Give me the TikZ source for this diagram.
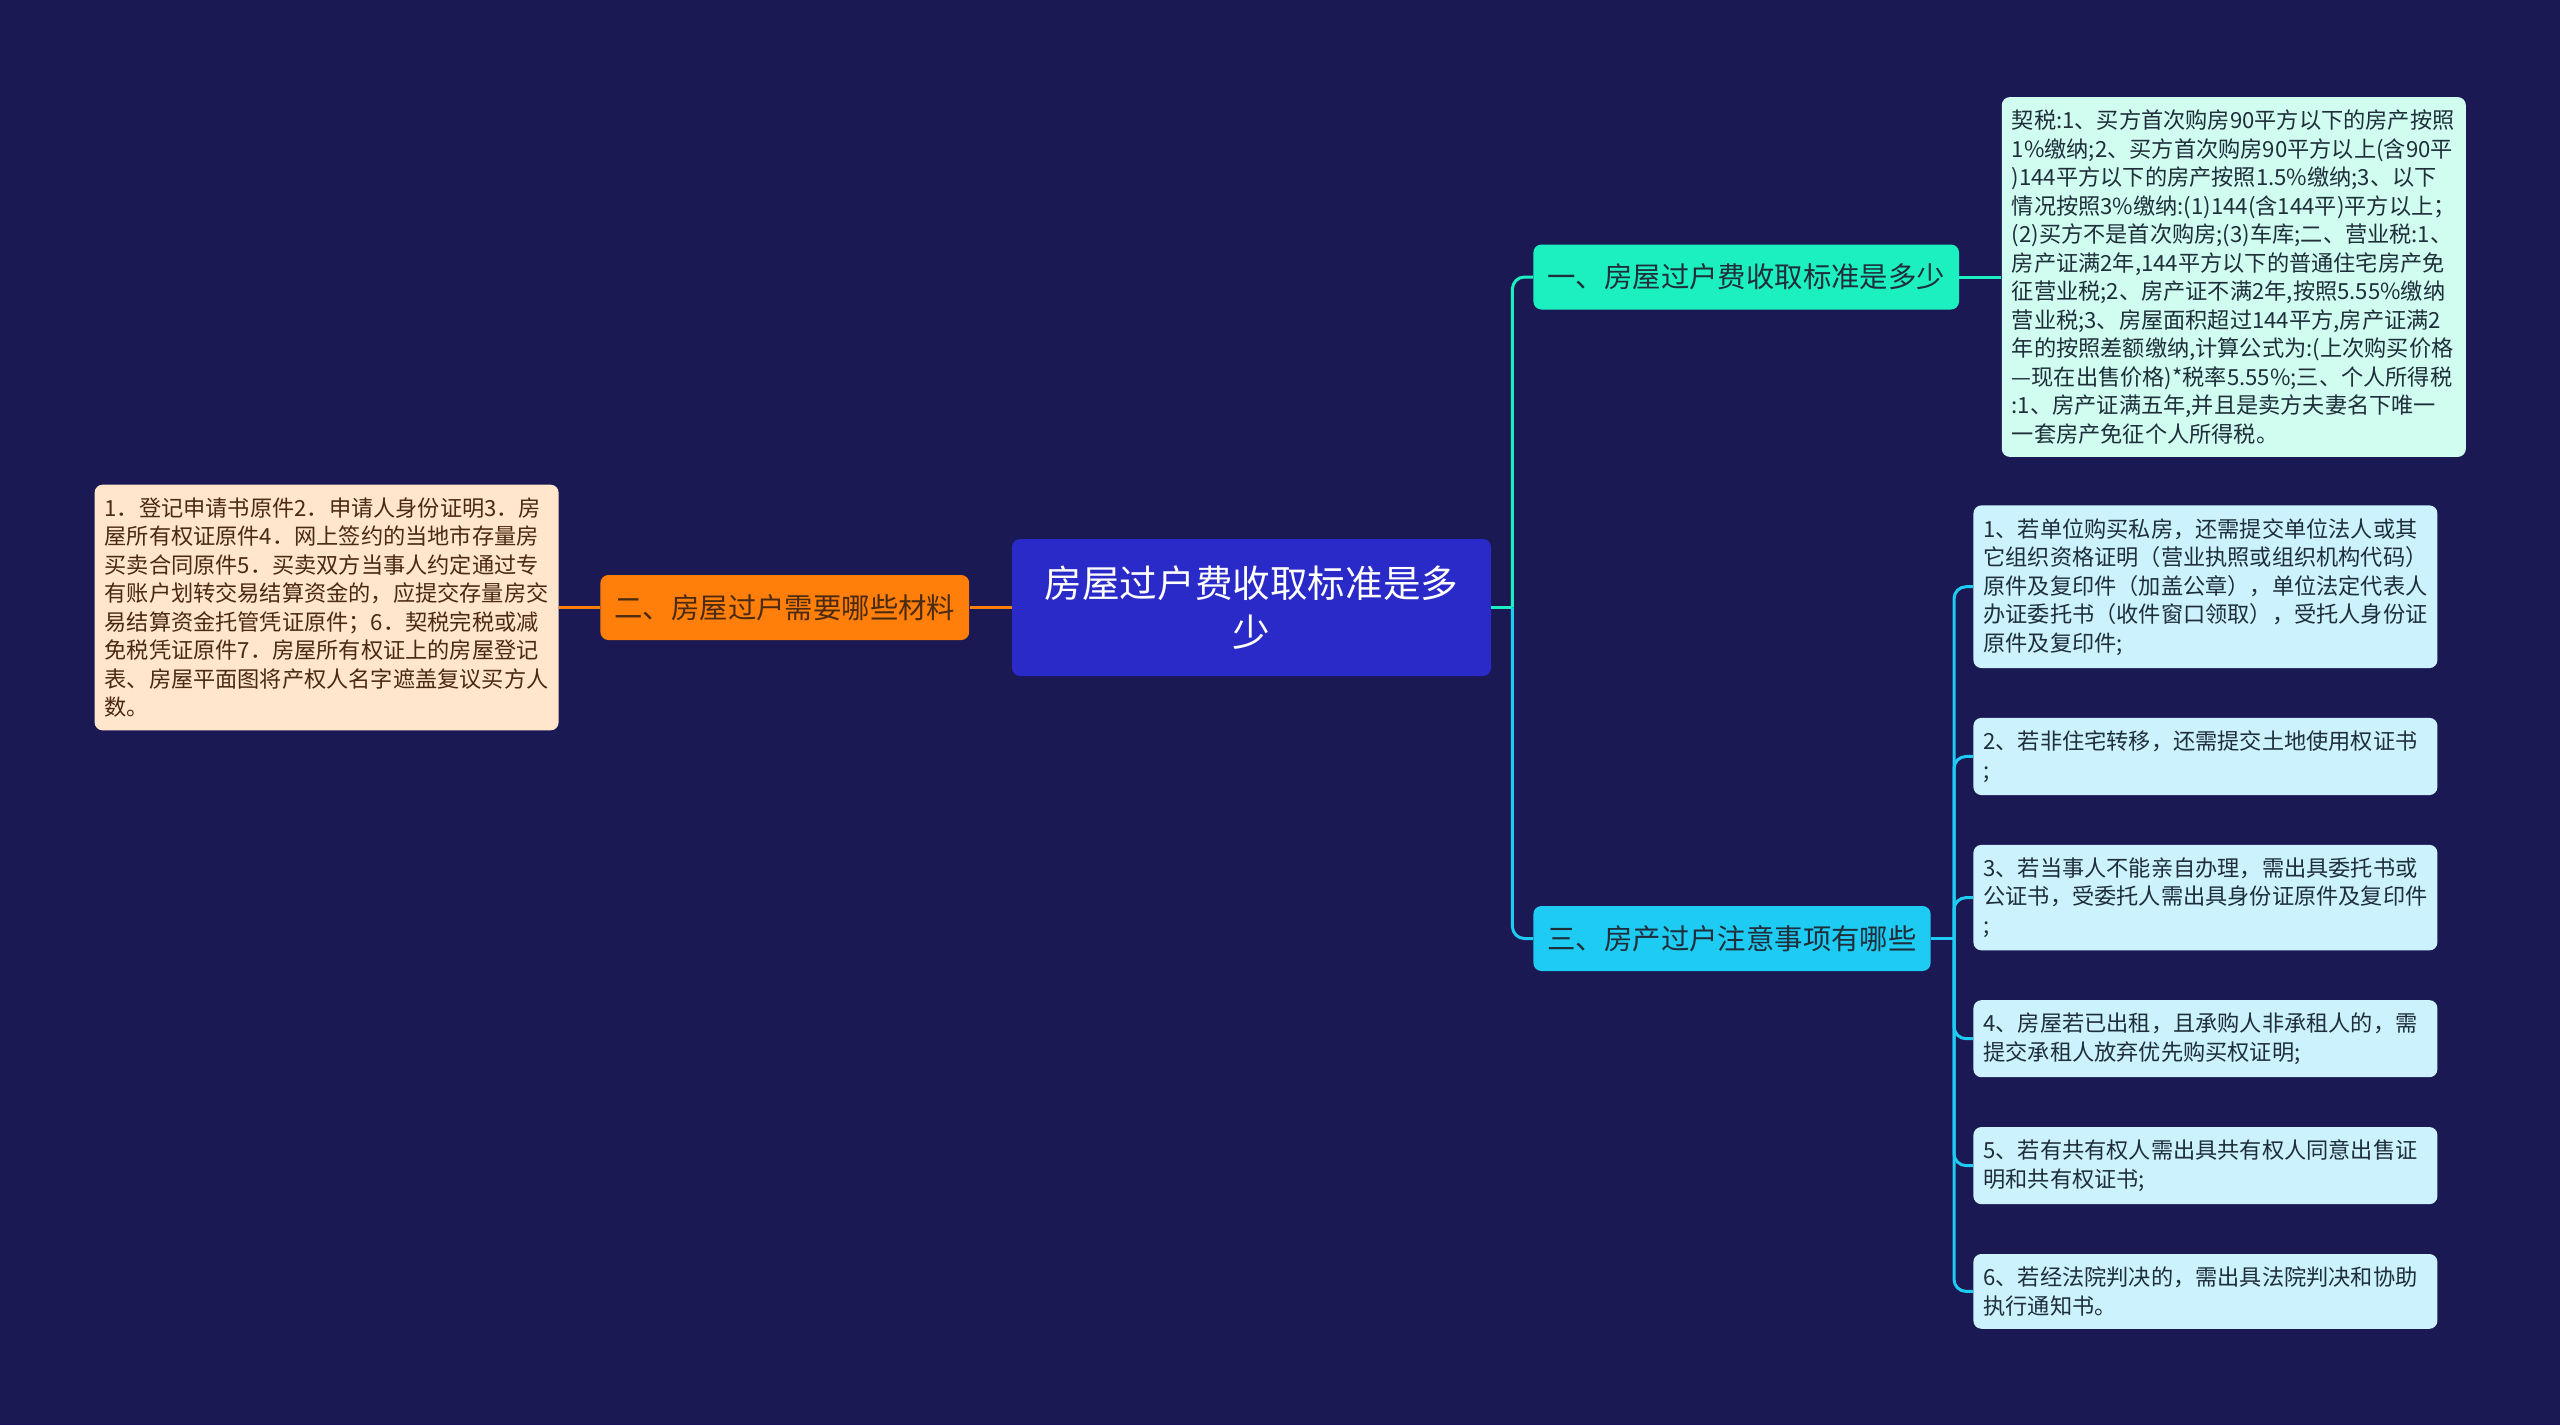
\documentclass[tikz,border=0pt]{standalone}
\usepackage{fontspec}
\setmainfont{Noto Sans CJK SC}
\usetikzlibrary{positioning}

\definecolor{bgnavy}{HTML}{1B1953}
\definecolor{rootblue}{HTML}{2A2AC8}
\definecolor{brorange}{HTML}{FF7F0A}
\definecolor{leafpeach}{HTML}{FFE6CC}
\definecolor{brteal}{HTML}{1DF0C0}
\definecolor{leafmint}{HTML}{D0FDF0}
\definecolor{brcyan}{HTML}{1ECBF2}
\definecolor{leafsky}{HTML}{CCF2FD}
\definecolor{txtdark}{HTML}{1E2E3A}
\definecolor{txtbrown}{HTML}{4A2A10}

\begin{document}
\begin{tikzpicture}[x=0.5pt,y=-0.5pt,
    topic/.style={rectangle,rounded corners=4pt,fill=rootblue,text=white,
		minimum width=239.5pt,minimum height=68.5pt,align=center,
		font=\fontsize{18.8pt}{24.5pt}\selectfont},
% Branch style
    subtopic/.style={rectangle,rounded corners=4pt,inner xsep=7pt,text=txtdark,
		minimum height=32.5pt,font=\fontsize{14.2pt}{17pt}\selectfont},
% Detail style
    detail/.style={rectangle,rounded corners=4pt,text width=222pt,align=left,
		inner xsep=5pt,inner ysep=6.4pt,text=txtdark,
		font=\fontsize{11.1pt}{14.25pt}\selectfont},
    link/.style={line width=1.5pt,rounded corners=6pt}
    ]
   \fill[bgnavy] (0,0) rectangle (2560,1425);
   \useasboundingbox (0,0) rectangle (2560,1425);

%%% Centre and left branch
   \node [topic] (main) at (1251.5,607.5) {房屋过户费收取标准是多\\少};
   \node [subtopic,fill=brorange,text=txtbrown] (b2) [left=21pt of main] {二、房屋过户需要哪些材料};
   \node [detail,fill=leafpeach,text=txtbrown] (d2) [left=20.5pt of b2] {1．登记申请书原件2．申请人身份证明3．房\\屋所有权证原件4．网上签约的当地市存量房\\买卖合同原件5．买卖双方当事人约定通过专\\有账户划转交易结算资金的，应提交存量房交\\易结算资金托管凭证原件；6．契税完税或减\\免税凭证原件7．房屋所有权证上的房屋登记\\表、房屋平面图将产权人名字遮盖复议买方人\\数。};
   \draw[link,brorange] (main) -- (b2);
   \draw[link,brorange] (b2) -- (d2);

%%% Right branches
   \node [subtopic,fill=brteal,anchor=west] (b1) at (1533,277) {一、房屋过户费收取标准是多少};
   \node [detail,fill=leafmint] (d1) [right=21pt of b1] {契税:1、买方首次购房90平方以下的房产按照\\1\%缴纳;2、买方首次购房90平方以上(含90平\\)144平方以下的房产按照1.5\%缴纳;3、以下\\情况按照3\%缴纳:(1)144(含144平)平方以上；\\(2)买方不是首次购房;(3)车库;二、营业税:1、\\房产证满2年,144平方以下的普通住宅房产免\\征营业税;2、房产证不满2年,按照5.55\%缴纳\\营业税;3、房屋面积超过144平方,房产证满2\\年的按照差额缴纳,计算公式为:(上次购买价格\\—现在出售价格)*税率5.55\%;三、个人所得税\\:1、房产证满五年,并且是卖方夫妻名下唯一\\一套房产免征个人所得税。};
   \node [subtopic,fill=brcyan,anchor=west] (b3) at (1533,938.5) {三、房产过户注意事项有哪些};

   \node [detail,fill=leafsky,anchor=north west] (c1) at (1973,505) {1、若单位购买私房，还需提交单位法人或其\\它组织资格证明（营业执照或组织机构代码）\\原件及复印件（加盖公章），单位法定代表人\\办证委托书（收件窗口领取），受托人身份证\\原件及复印件;};
   \node [detail,fill=leafsky] (c2) [below=24.5pt of c1] {2、若非住宅转移，还需提交土地使用权证书\\;};
   \node [detail,fill=leafsky] (c3) [below=24.5pt of c2] {3、若当事人不能亲自办理，需出具委托书或\\公证书，受委托人需出具身份证原件及复印件\\;};
   \node [detail,fill=leafsky] (c4) [below=24.5pt of c3] {4、房屋若已出租，且承购人非承租人的，需\\提交承租人放弃优先购买权证明;};
   \node [detail,fill=leafsky] (c5) [below=24.5pt of c4] {5、若有共有权人需出具共有权人同意出售证\\明和共有权证书;};
   \node [detail,fill=leafsky] (c6) [below=24.5pt of c5] {6、若经法院判决的，需出具法院判决和协助\\执行通知书。};

   \coordinate (fork) at ([xshift=10.5pt]main.east);
   \draw[link,brteal] (main.east) -- (fork);
   \draw[link,brteal] (fork) |- (b1);
   \draw[link,brcyan] (fork) |- (b3);
   \draw[link,brteal] (b1) -- (d1);
   \coordinate (fork3) at ([xshift=11.5pt]b3.east);
   \draw[link,brcyan] (b3) -- (fork3);
   \foreach \c in {c1,c2,c3,c4,c5,c6}
       \draw[link,brcyan] (fork3) |- (\c);
\end{tikzpicture}
\end{document}
